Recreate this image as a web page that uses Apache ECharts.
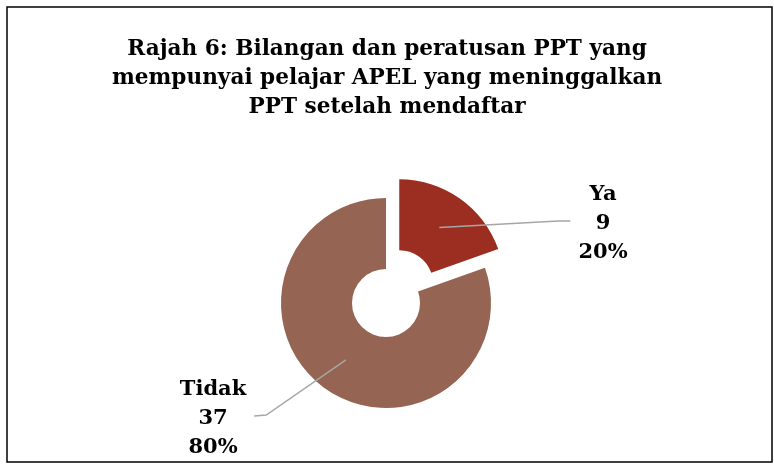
<!DOCTYPE html>
<html>
<head>
<meta charset="utf-8">
<script src="https://cdn.jsdelivr.net/npm/echarts@6/dist/echarts.min.js"></script>
<style>
  html, body { margin: 0; padding: 0; background: #fff; }
  #chart { width: 774px; height: 470px; }
</style>
</head>
<body>
<div id="chart"></div>
<script>
// data
var categories = ['Ya', 'Tidak'];
var counts = [9, 37];
var colours = ['#9b2e20', '#956453'];

var titleText = 'Rajah 6: Bilangan dan peratusan PPT yang\nmempunyai pelajar APEL yang meninggalkan\nPPT setelah mendaftar';

// layout
var centre = [386, 303];
var radii = [34, 105];
var explode = 23;                         // the "Ya" slice is pulled out
var labelSpots = [[603, 224], [213, 419]]; // centre of each text block

var chart = echarts.init(document.getElementById('chart'));

var total = counts.reduce(function (a, b) { return a + b; }, 0);
// bisector of the first slice, measured clockwise from 12 o'clock
var midAngle = Math.PI * counts[0] / total;
var yaCentre = [centre[0] + explode * Math.sin(midAngle), centre[1] - explode * Math.cos(midAngle)];

var labelFont = {
    fontFamily: 'DejaVu Serif',
    fontWeight: 'bold',
    fontSize: 21,
    lineHeight: 29,
    color: '#000'
};

function labelLayout(params) {
    var i = params.dataIndex;
    var pts = params.labelLinePoints;
    if (!pts || !pts[0] || !pts[1]) return {};
    var spot = labelSpots[i];
    var w = params.labelRect.width;
    // start the line half way into the ring, along the slice bisector
    var p0 = pts[0], p1 = pts[1];
    var dx = p1[0] - p0[0], dy = p1[1] - p0[1];
    var len = Math.sqrt(dx * dx + dy * dy) || 1;
    var inset = (radii[1] - radii[0]) / 2;
    var start = [p0[0] - dx / len * inset, p0[1] - dy / len * inset];
    var side = spot[0] > centre[0] ? -1 : 1;
    var end = [spot[0] + side * (w / 2 + 8), spot[1] - 3];
    var elbow = [end[0] + side * 12, end[1] - (side > 0 ? 1 : 0)];
    return {
        x: spot[0],
        y: spot[1],
        align: 'center',
        verticalAlign: 'middle',
        labelLinePoints: [start, elbow, end]
    };
}

// one series per slice so the first can sit off-centre;
// labels come from a see-through copy drawn on top so the lines cross the ring
function sliceSeries(k, c, forLabel) {
    return {
        type: 'pie',
        center: c,
        radius: radii,
        startAngle: 90,
        percentPrecision: 0,
        z: forLabel ? 5 : 2,
        silent: true,
        emphasis: { disabled: true },
        label: Object.assign({ show: forLabel, formatter: '{b}\n{c}\n{d}%' }, labelFont),
        labelLine: {
            show: forLabel,
            length: 20,
            length2: 20,
            lineStyle: { color: '#a6a6a6', width: 1.5 }
        },
        labelLayout: forLabel ? labelLayout : null,
        data: categories.map(function (name, i) {
            var mine = i === k;
            return {
                name: name,
                value: counts[i],
                itemStyle: { color: (mine && !forLabel) ? colours[i] : 'rgba(0,0,0,0)' },
                label: { show: mine && forLabel },
                labelLine: { show: mine && forLabel }
            };
        })
    };
}

chart.setOption({
    animation: false,
    graphic: [{
        type: 'rect',
        shape: { x: 7, y: 7, width: 765, height: 455 },
        style: { fill: 'none', stroke: '#000', lineWidth: 1.5 },
        z: 100
    }],
    title: {
        text: titleText,
        left: 'center',
        top: 30,
        textStyle: {
            fontFamily: 'DejaVu Serif',
            fontWeight: 'bold',
            fontSize: 21.6,
            lineHeight: 29,
            color: '#000'
        }
    },
    series: [
        sliceSeries(0, yaCentre, false),
        sliceSeries(1, centre, false),
        sliceSeries(0, yaCentre, true),
        sliceSeries(1, centre, true)
    ]
});
</script>
</body>
</html>
